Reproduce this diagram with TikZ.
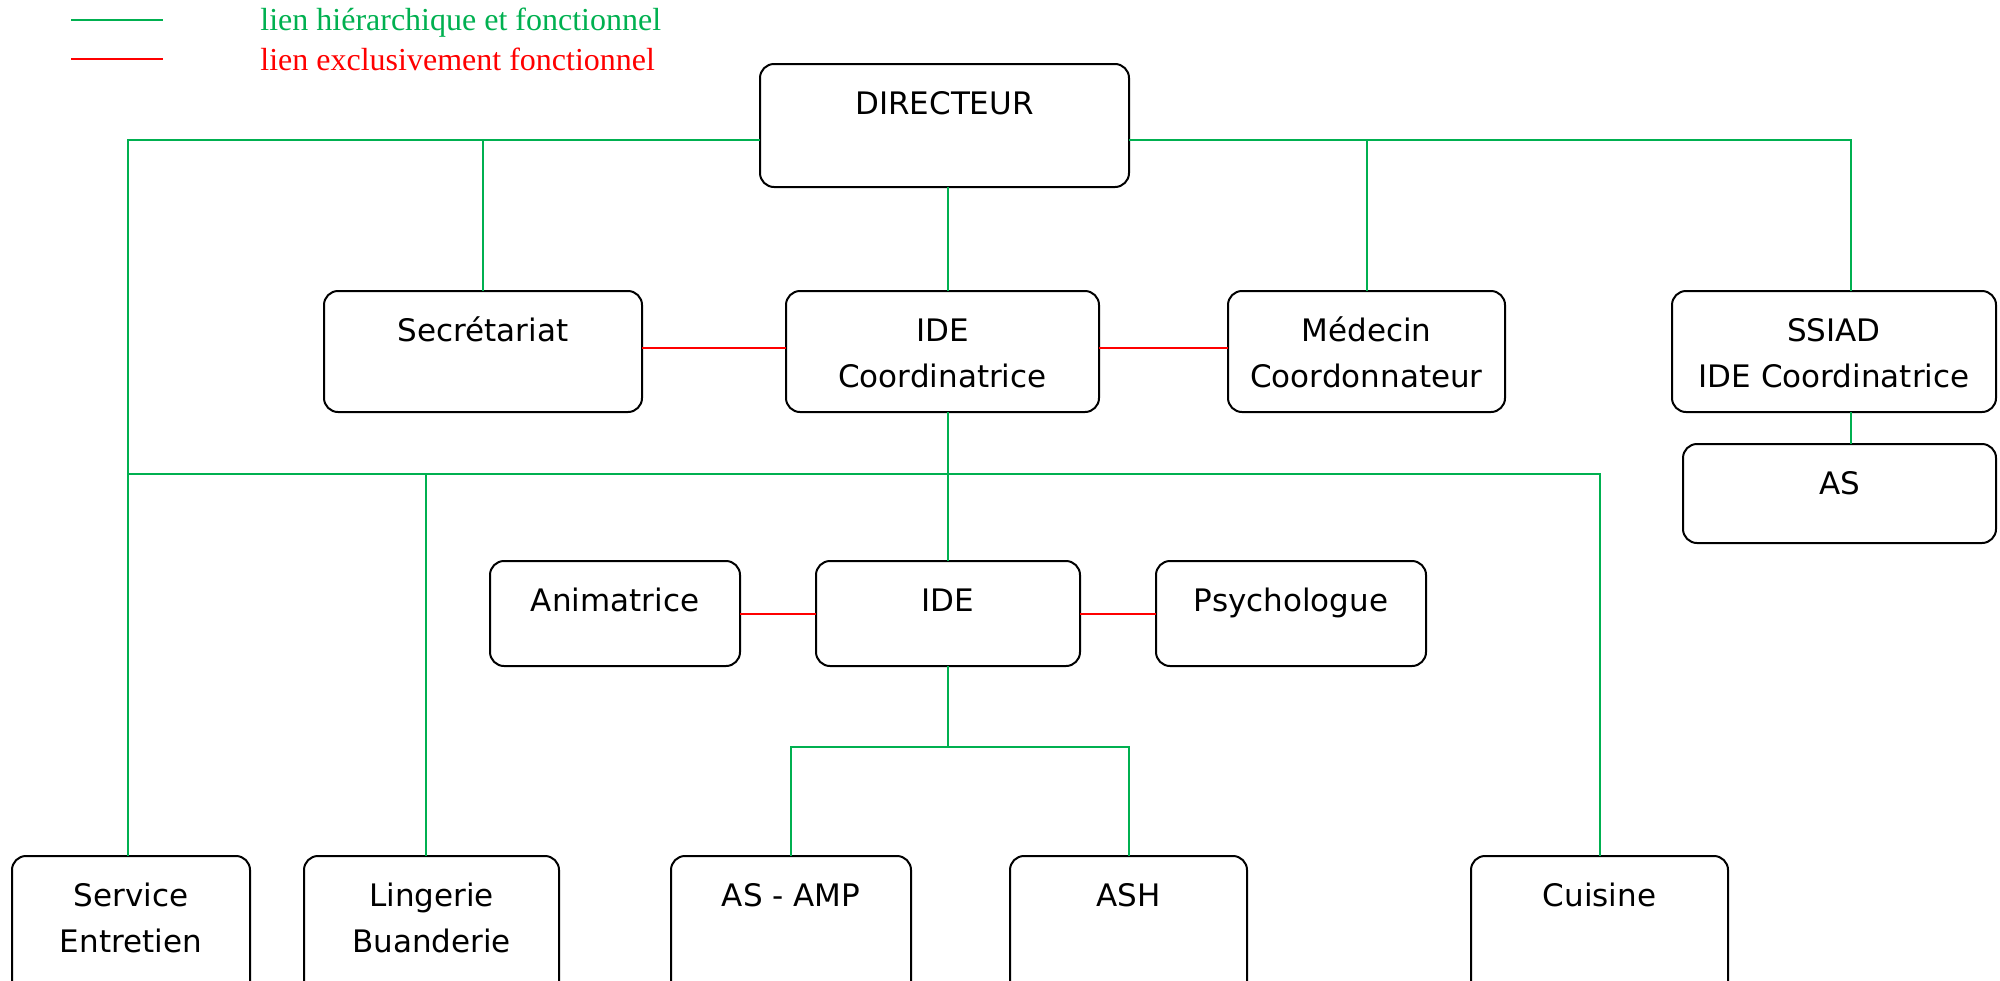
\documentclass[tikz,border=0pt]{standalone}
\usepackage{fontspec}
\setmainfont{Liberation Serif}
\newfontfamily\boxfont{DejaVu Sans}
\definecolor{hier}{RGB}{0,176,80}
\definecolor{fonc}{RGB}{255,0,0}

\tikzset{
  orgbox/.style={draw=black, line width=1pt, rounded corners=7pt,
    inner sep=0pt, outer sep=0pt},
  orgtext/.style={font=\boxfont\fontsize{15.5}{23}\selectfont,
    inner sep=0pt, anchor=base},
  legtext/.style={font=\fontsize{16}{19}\selectfont, anchor=west, inner sep=0pt},
  hierlink/.style={draw=hier, line width=1pt},
  fonclink/.style={draw=fonc, line width=1pt},
}

% Box macro (name, x1, y1, x2, y2, text)
\newcommand{\obox}[6]{%
  \node[orgbox, minimum width={(#4-#2)*0.5pt}, minimum height={(#5-#3)*0.5pt}]
    (#1) at ({0.5*(#2+#4)},{0.5*(#3+#5)}) {};
  \node[orgtext] (#1-t) at ({0.5*(#2+#4)},#3+50)
    {\begin{tabular}[t]{@{}c@{}}#6\end{tabular}};}

\begin{document}
\begin{tikzpicture}[x=0.5pt,y=-0.5pt]

\useasboundingbox (0,0) rectangle (2000,980);
\clip (0,0) rectangle (2000,980);

% ---- legend ----
\draw[hierlink] (71,20) -- (163,20);
\draw[fonclink] (71,59) -- (163,59);
\node[legtext, text=hier] (leg-h) at (260,23) {lien hiérarchique et fonctionnel};
\node[legtext, text=fonc] (leg-f) at (260,59) {lien exclusivement fonctionnel};

% ---- boxes ----
\obox{dir}{760}{64}{1129}{187}{DIRECTEUR}
\obox{sec}{324}{291}{642}{412}{Secrétariat}
\obox{idec}{786}{291}{1099}{412}{IDE\\Coordinatrice}
\obox{med}{1228}{291}{1505}{412}{Médecin\\Coordonnateur}
\obox{ssiad}{1672}{291}{1996}{412}{SSIAD\\IDE Coordinatrice}
\obox{as}{1683}{444}{1996}{543}{AS}
\obox{anim}{490}{561}{740}{666}{Animatrice}
\obox{ide}{816}{561}{1080}{666}{IDE}
\obox{psy}{1156}{561}{1426}{666}{Psychologue}
% bottom row (cut by the frame)
\obox{serv}{12}{856}{250}{1010}{Service\\Entretien}
\obox{ling}{304}{856}{559}{1010}{Lingerie\\Buanderie}
\obox{asamp}{671}{856}{911}{1010}{AS - AMP}
\obox{ash}{1010}{856}{1247}{1010}{ASH}
\obox{cuis}{1471}{856}{1728}{1010}{Cuisine}

% ---- hierarchical links ----
\coordinate (jtl) at (128,140);   % top bar, left end
\coordinate (jtr) at (1851,140);  % top bar, right end
\coordinate (jml) at (128,474);   % middle bar, left end
\coordinate (jmg) at (426,474);   % middle bar, drop to Lingerie
\coordinate (jb) at (948,747);    % lower bar

\draw[hierlink] (dir.west |- jtl) -- (jtl) -- (jtl |- serv.north);
\draw[hierlink] (sec.north |- jtl) -- (sec.north);
\draw[hierlink] (dir.east |- jtr) -- (jtr) -- (jtr |- ssiad.north);
\draw[hierlink] (med.north |- jtr) -- (med.north);
\draw[hierlink] (ssiad.south -| jtr) -- (as.north -| jtr);
\draw[hierlink] (dir.south -| jb) -- (idec.north -| jb);
\draw[hierlink] (jml) -- (cuis.north |- jml) -- (cuis.north);
\draw[hierlink] (jmg) -- (jmg |- ling.north);
\draw[hierlink] (idec.south -| jb) -- (ide.north -| jb);
\draw[hierlink] (ide.south -| jb) -- (jb);
\draw[hierlink] (asamp.north) -- (asamp.north |- jb) -- (ash.north |- jb) -- (ash.north);

% ---- functional links ----
\draw[fonclink] ([yshift=2pt]sec.east) -- ([yshift=2pt]idec.west);
\draw[fonclink] ([yshift=2pt]idec.east) -- ([yshift=2pt]med.west);
\draw[fonclink] (anim.east) -- (ide.west);
\draw[fonclink] (ide.east) -- (psy.west);

\end{tikzpicture}
\end{document}
